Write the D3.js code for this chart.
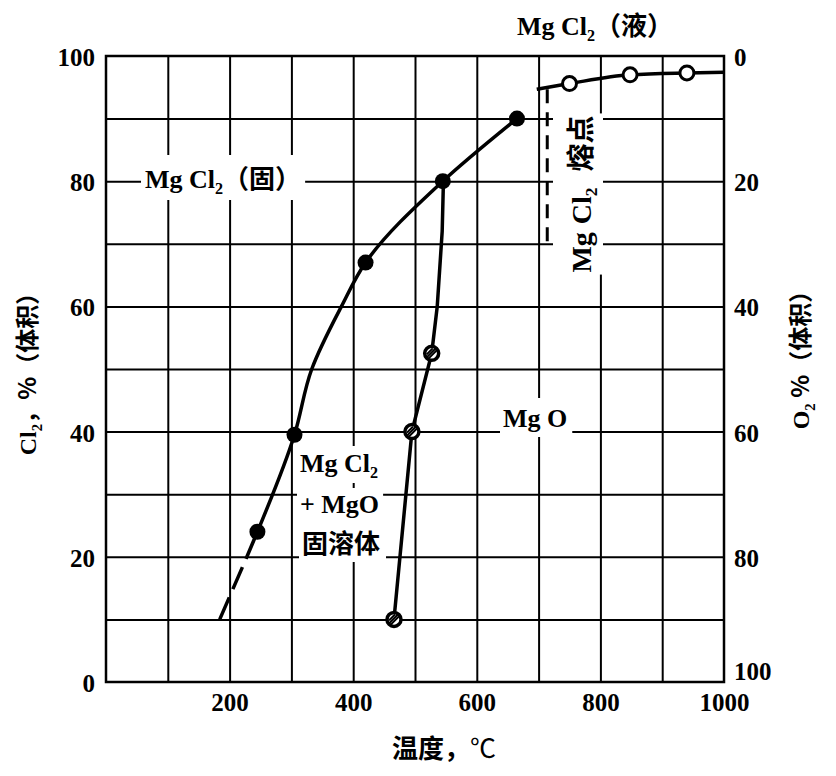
<!DOCTYPE html>
<html><head><meta charset="utf-8">
<script src="https://cdn.jsdelivr.net/npm/d3@7"></script>
<style>body{margin:0;background:#fff}</style>
</head><body>
<svg id="c" width="836" height="776"></svg>
<script>
// ---- data ----
const xTickValues = [200, 400, 600, 800, 1000];
const cl2TickValues = [0, 20, 40, 60, 80, 100];
const o2TickValues = [0, 20, 40, 60, 80, 100];

// MgCl2 / (MgCl2 + MgO solid solution) boundary
const cl2DashTemp = [184, 228];
const cl2DashVal = [10, 20];
const cl2CurveTemp = [228, 245, 305, 333, 381, 420, 545, 665];
const cl2CurveVal = [20, 24, 39.5, 50, 60, 67, 80, 90];
const cl2MarkTemp = [245, 305, 420, 545, 665];
const cl2MarkVal = [24, 39.5, 67, 80, 90];

// MgO boundary
const mgoCurveTemp = [466, 495, 527, 536, 544, 546];
const mgoCurveVal = [10, 40, 52.5, 60, 72, 80];
const mgoMarkTemp = [466, 495, 527];
const mgoMarkVal = [10, 40, 52.5];

// liquid MgCl2
const liqCurveTemp = [697, 750, 848, 940, 1000];
const liqCurveVal = [94.7, 95.6, 97, 97.3, 97.4];
const liqMarkTemp = [750, 848, 940];
const liqMarkVal = [95.6, 97, 97.3];

// MgCl2 melting point
const meltTemp = [714, 714];
const meltVal = [94.7, 70];

// ---- layout ----
const svg = d3.select("#c");
const L = 106, R = 724, T = 56, B = 682;
const x = d3.scaleLinear().domain([0, 1000]).range([L, R]);
const y = d3.scaleLinear().domain([0, 100]).range([B, T]);
const y2 = d3.scaleLinear().domain([0, 100]).range([T, B]);
const serif = "'Liberation Serif','Noto Sans CJK SC',serif";
const cjk = "'Noto Sans CJK SC','Liberation Serif',sans-serif";

const gridG = svg.append("g");
const maskG = svg.append("g");
const curveG = svg.append("g");
const labelG = svg.append("g");

// grid
gridG.append("g").attr("transform", `translate(0,${B})`)
  .call(d3.axisBottom(x).tickValues(d3.range(100, 1000, 100)).tickSize(-(B - T)).tickFormat(""));
gridG.append("g").attr("transform", `translate(${L},0)`)
  .call(d3.axisLeft(y).tickValues(d3.range(10, 100, 10)).tickSize(-(R - L)).tickFormat(""));
gridG.selectAll(".domain").remove();
gridG.selectAll(".tick line").attr("stroke", "#000").attr("stroke-width", 2);
gridG.append("rect").attr("x", L).attr("y", T).attr("width", R - L).attr("height", B - T)
  .attr("fill", "none").attr("stroke", "#000").attr("stroke-width", 2.5);

// axes labels
const ax1 = svg.append("g").attr("transform", `translate(0,${B})`)
  .call(d3.axisBottom(x).tickValues(xTickValues).tickSize(0).tickPadding(29).tickFormat(d3.format("d")));
const ax2 = svg.append("g").attr("transform", `translate(${L},0)`)
  .call(d3.axisLeft(y).tickValues(cl2TickValues).tickSize(0).tickPadding(11).tickFormat(d3.format("d")));
const ax3 = svg.append("g").attr("transform", `translate(${R},0)`)
  .call(d3.axisRight(y2).tickValues(o2TickValues).tickSize(0).tickPadding(10).tickFormat(d3.format("d")));
[ax1, ax2, ax3].forEach(a => {
  a.select(".domain").remove();
  a.selectAll("text").attr("font-family", serif).attr("font-weight", "bold")
    .attr("font-size", 25).attr("fill", "#000");
});
ax1.selectAll("text").attr("dy", "0");
ax2.selectAll("text").attr("dy", "0.38em");
ax3.selectAll("text").attr("dy", d => d === 100 ? "-0.12em" : "0.38em");

// curves
const line = (ts, vs, curve) => d3.line().x(i => x(ts[i])).y(i => y(vs[i])).curve(curve)(d3.range(ts.length));
curveG.append("path").attr("d", line(cl2DashTemp, cl2DashVal, d3.curveLinear))
  .attr("fill", "none").attr("stroke", "#000").attr("stroke-width", 3.5).attr("stroke-dasharray", "24,9");
curveG.append("path").attr("d", line(cl2CurveTemp, cl2CurveVal, d3.curveMonotoneY))
  .attr("fill", "none").attr("stroke", "#000").attr("stroke-width", 3.5);
curveG.append("path").attr("d", line(mgoCurveTemp, mgoCurveVal, d3.curveLinear))
  .attr("fill", "none").attr("stroke", "#000").attr("stroke-width", 3.5);
curveG.append("path").attr("d", line(liqCurveTemp, liqCurveVal, d3.curveMonotoneX))
  .attr("fill", "none").attr("stroke", "#000").attr("stroke-width", 3.5);
curveG.append("path").attr("d", line(meltTemp, meltVal, d3.curveLinear))
  .attr("fill", "none").attr("stroke", "#000").attr("stroke-width", 3).attr("stroke-dasharray", "14,9");

// markers
curveG.selectAll(".m1").data(d3.range(cl2MarkTemp.length)).join("circle")
  .attr("cx", i => x(cl2MarkTemp[i])).attr("cy", i => y(cl2MarkVal[i])).attr("r", 8).attr("fill", "#000");
const mg = curveG.selectAll(".m2").data(d3.range(mgoMarkTemp.length)).join("g")
  .attr("transform", i => `translate(${x(mgoMarkTemp[i])},${y(mgoMarkVal[i])})`);
mg.append("circle").attr("r", 7).attr("fill", "#fff").attr("stroke", "#000").attr("stroke-width", 3.5);
mg.append("path").attr("d", "M-5,4L4,-5M-3,5L5,-3M-5,1L1,-5").attr("stroke", "#000").attr("stroke-width", 2);
curveG.selectAll(".m3").data(d3.range(liqMarkTemp.length)).join("circle")
  .attr("cx", i => x(liqMarkTemp[i])).attr("cy", i => y(liqMarkVal[i])).attr("r", 7)
  .attr("fill", "#fff").attr("stroke", "#000").attr("stroke-width", 3);

// label helper
function label(parts, px, py, opts = {}) {
  const t = labelG.append("text").attr("font-family", serif).attr("font-weight", "bold")
    .attr("font-size", opts.size || 26).attr("fill", "#000")
    .attr("text-anchor", opts.anchor || "start");
  if (opts.rotate) t.attr("transform", `translate(${px},${py}) rotate(-90)`).attr("x", 0).attr("y", 0);
  else t.attr("x", px).attr("y", py);
  let shift = 0;
  parts.forEach(p => {
    const s = t.append("tspan").text(p.t);
    if (p.sub) { s.attr("font-size", "0.62em").attr("dy", 6); shift = 6; }
    else if (shift) { s.attr("dy", -shift); shift = 0; }
    if (p.cjk) s.attr("font-family", cjk);
    if (p.w) s.attr("font-weight", p.w);
    if (p.dx) s.attr("dx", p.dx);
  });
  if (opts.mask) {
    const b = t.node().getBoundingClientRect();
    const [px0, py0, px1, py1] = opts.mask;
    maskG.append("rect").attr("x", b.left - px0).attr("y", b.top - py0)
      .attr("width", b.width + px0 + px1).attr("height", b.height + py0 + py1).attr("fill", "#fff");
  }
  return t;
}

label([{t: "Mg Cl"}, {t: "2", sub: true}, {t: "（固）", cjk: true}], 145, 188, {mask: [4, 3, 4, 3]});
label([{t: "Mg Cl"}, {t: "2", sub: true}, {t: "（液）", cjk: true}], 517, 35);
label([{t: "Mg O"}], 503, 427, {mask: [3, 6, 5, 4]});
label([{t: "Mg Cl"}, {t: "2", sub: true}], 300, 472, {mask: [3, 3, 4, 2]});
label([{t: "+ MgO"}], 300, 513, {mask: [3, 2, 4, 2]});
label([{t: "固溶体", cjk: true}], 302, 553, {mask: [3, 2, 6, 2]});
label([{t: "Mg"}, {t: "Cl", dx: 8}, {t: "2", sub: true}, {t: "熔点", cjk: true, dx: 16}], 591, 194, {rotate: true, anchor: "middle", size: 28, mask: [6, 2, 2, 2]});

// axis titles
label([{t: "温度，", cjk: true}, {t: "℃", cjk: true, w: "normal"}], 392, 758, {size: 26});
label([{t: "Cl"}, {t: "2", sub: true}, {t: "，%（体积）", cjk: true}], 36, 368, {rotate: true, anchor: "middle", size: 24});
label([{t: "O"}, {t: "2", sub: true}, {t: " %（体积）", cjk: true}], 809, 354, {rotate: true, anchor: "middle", size: 24});
</script>
</body></html>
